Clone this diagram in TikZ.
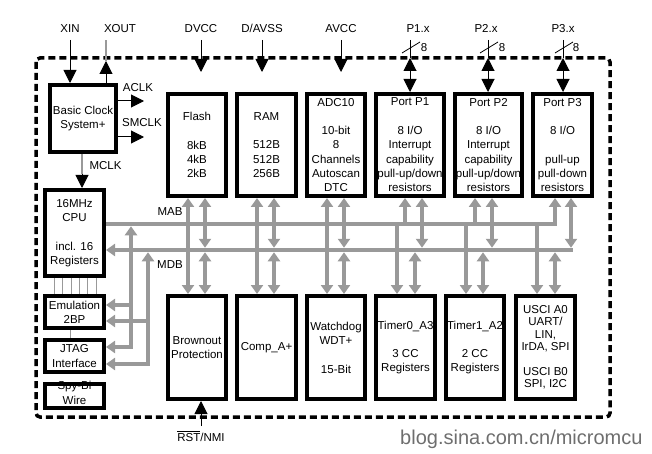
\documentclass[tikz,border=0pt]{standalone}
\usepackage{fontspec}
\setmainfont{Liberation Sans}
\usetikzlibrary{arrows.meta}
\definecolor{busgray}{RGB}{153,153,153}
\definecolor{wmgray}{RGB}{110,110,110}
\tikzset{
  bt/.tip={Triangle[width=13pt,length=13pt]},
  gt/.tip={Triangle[width=12pt,length=9pt]},
  txt/.style={font=\fontsize{11.5}{14.3}\selectfont, inner sep=0pt},
  blk/.style={draw, line width=4pt, inner sep=0pt, outer sep=2pt, align=center,
              font=\fontsize{11.5}{14.3}\selectfont},
  bus/.style={draw=busgray, line width=4.5pt},
  barrow/.style={line width=1pt, -bt},
  thinlink/.style={draw=busgray, line width=0.7pt},
}
\begin{document}
\begin{tikzpicture}[x=1pt,y=-1pt]
\useasboundingbox (0,0) rectangle (652,454);

% outer dashed boundary
\draw[line width=3.5pt, dash pattern=on 7pt off 4pt, rounded corners=4pt] (36,58) rectangle (610,417);

% left column
\node[blk, minimum width=66pt, minimum height=67pt] (clk) at (83,118.5) {Basic Clock\\System+};
\node[blk, minimum width=59pt, minimum height=86pt] (cpu) at (74.5,233) {16MHz\\CPU\\[14.3pt]incl. 16\\Registers};
\node[blk, minimum width=59pt, minimum height=32pt] (emu) at (74.5,312) {Emulation\\2BP};
\node[blk, minimum width=59pt, minimum height=32pt] (jtag) at (74.5,356) {JTAG\\Interface};
\node[txt, align=center] (spytxt) at (74.5,393) {Spy-Bi\\Wire};
\node[blk, minimum width=59pt, minimum height=24pt] (spy) at (74.5,396) {};

% top row
\node[blk, minimum width=58pt, minimum height=102pt] (flash) at (197,145) {Flash\\[14.3pt]8kB\\4kB\\2kB};
\node[blk, minimum width=59pt, minimum height=102pt] (ram) at (266.5,145) {RAM\\[14.3pt]512B\\512B\\256B};
\node[blk, minimum width=58pt, minimum height=102pt] (adc) at (336,145) {ADC10\\[14.3pt]10-bit\\8\\Channels\\Autoscan\\DTC};
\node[blk, minimum width=68pt, minimum height=102pt] (p1) at (410,145) {Port P1\\[14.3pt]8 I/O\\Interrupt\\capability\\pull-up/down\\resistors};
\node[blk, minimum width=67pt, minimum height=102pt] (p2) at (488.5,145) {Port P2\\[14.3pt]8 I/O\\Interrupt\\capability\\pull-up/down\\resistors};
\node[blk, minimum width=59pt, minimum height=102pt] (p3) at (562.5,145) {Port P3\\[14.3pt]8 I/O\\[14.3pt]pull-up\\pull-down\\resistors};

% bottom row
\node[blk, minimum width=58pt, minimum height=103pt] (brown) at (197,347.5) {Brownout\\Protection};
\node[blk, minimum width=59pt, minimum height=103pt] (comp) at (266.5,347.5) {Comp\_A+};
\node[blk, minimum width=58pt, minimum height=103pt] (wdt) at (336,347.5) {Watchdog\\WDT+\\[14.3pt]15-Bit};
\node[blk, minimum width=59pt, minimum height=103pt] (t0) at (405.5,347.5) {Timer0\_A3\\[14.3pt]3 CC\\Registers};
\node[blk, minimum width=58pt, minimum height=103pt] (t1) at (475,347.5) {Timer1\_A2\\[14.3pt]2 CC\\Registers};
\node[blk, minimum width=59pt, minimum height=103pt, font=\fontsize{11.5}{12.4}\selectfont] (usci) at (545.5,347.5) {USCI A0\\UART/\\LIN,\\IrDA, SPI\\[12.4pt]USCI B0\\SPI, I2C};

% external labels
\node[txt, anchor=base] (lxin) at (70,33) {XIN};
\node[txt, anchor=base] (lxout) at (120,33) {XOUT};
\node[txt, anchor=base] (ldvcc) at (201,33) {DVCC};
\node[txt, anchor=base] (ldavss) at (262,33) {D/AVSS};
\node[txt, anchor=base] (lavcc) at (341,33) {AVCC};
\node[txt, anchor=base] (lp1) at (418,33) {P1.x};
\node[txt, anchor=base] (lp2) at (486,33) {P2.x};
\node[txt, anchor=base] (lp3) at (563,33) {P3.x};
\node[txt, anchor=base] (l8a) at (424,52) {8};
\node[txt, anchor=base] (l8b) at (502,52) {8};
\node[txt, anchor=base] (l8c) at (576,52) {8};
\node[txt, anchor=base] (laclk) at (138,92) {ACLK};
\node[txt, anchor=base] (lsmclk) at (142,127) {SMCLK};
\node[txt, anchor=base] (lmclk) at (105.5,170) {MCLK};
\node[txt, anchor=base] (lmab) at (170,215) {MAB};
\node[txt, anchor=base] (lmdb) at (170,268) {MDB};
\node[txt, anchor=base] (lrst) at (201,441) {$\overline{\hbox{RST}}$/NMI};
\node[anchor=base west, inner sep=0pt, font=\fontsize{20}{20}\selectfont, text=wmgray] (wm) at (400,444) {blog.sina.com.cn/micromcu};

% clock signals
\coordinate (xinT) at (70,40);
\draw[barrow] (xinT) -- (clk.north -| xinT);
\coordinate (xoutT) at (106,40);
\coordinate (xoutA) at (106,61);
\draw[draw=busgray, line width=1.2pt] (xoutA) -- (xoutT);
\draw[barrow] (clk.north -| xoutA) -- (xoutA);
\coordinate (aclkE) at (144,101);
\draw[barrow] (clk.east |- aclkE) -- (aclkE);
\coordinate (smclkE) at (144,137);
\draw[barrow] (clk.east |- smclkE) -- (smclkE);
\coordinate (mclkA) at (82,174);
\draw[draw=busgray, line width=1.2pt] (clk.south -| mclkA) -- (mclkA);
\draw[barrow] (mclkA) -- (cpu.north -| mclkA);

% supplies
\coordinate (dvccT) at (201,40); \coordinate (dvccA) at (201,72);
\draw[barrow] (dvccT) -- (dvccA);
\coordinate (davssT) at (262,40); \coordinate (davssA) at (262,72);
\draw[barrow] (davssT) -- (davssA);
\coordinate (avccT) at (341,40); \coordinate (avccA) at (341,72);
\draw[barrow] (avccT) -- (avccA);

% port pins
\foreach \nm/\xx/\lab in {p1/410/lp1, p2/488/lp2, p3/563/lp3}{
  \coordinate (\nm T) at (\xx,40);
  \coordinate (\nm M) at (\xx,58);
  \draw[line width=1pt] (\nm T) -- (\nm M);
  \draw[line width=1pt, bt-bt] (\nm M) -- (\nm.north -| \nm M);
  \draw[line width=0.8pt] ([shift={(-8,13)}]\nm T) -- ([shift={(10,2)}]\nm T);
}

% reset
\coordinate (rstB) at (201,426);
\draw[barrow] (rstB) -- (brown.south -| rstB);

% buses
\draw[bus] (cpu.east |- 0,224) -- (557.25,224);
\draw[bus, gt-] (cpu.east |- 0,250) -- (573.25,250);

% memory / analog columns
\foreach \tp/\bt/\xa/\xb in {flash/brown/188/205, ram/comp/257/274, adc/wdt/327/344}{
  \draw[bus, gt-gt] (\tp.south -| \xa,0) -- (\bt.north -| \xa,0);
  \draw[bus, gt-gt] (\tp.south -| \xb,0) -- (\xb,247.75);
  \draw[bus, gt-gt] (\xb,252.25) -- (\bt.north -| \xb,0);
}
% port / peripheral columns
\foreach \tp/\bt/\xa/\xb/\xc/\xd in {p1/t0/405/422/397/415, p2/t1/475/492/466/483, p3/usci/555/571/537/555}{
  \draw[bus, -gt] (\xa,224) -- (\tp.south -| \xa,0);
  \draw[bus, gt-gt] (\tp.south -| \xb,0) -- (\xb,247.75);
  \draw[bus, -gt] (\xc,224) -- (\bt.north -| \xc,0);
  \draw[bus, gt-gt] (\xd,252.25) -- (\bt.north -| \xd,0);
}

% emulation / JTAG bus taps
\draw[bus, gt-gt] (jtag.east |- 0,347) -- (131,347) -- (131,226.25);
\draw[bus, -gt] (131,305) -- (emu.east |- 0,305);
\draw[bus, gt-gt] (jtag.east |- 0,364) -- (148,364) -- (148,252.25);
\draw[bus, -gt] (148,321) -- (emu.east |- 0,321);

% thin links
\foreach \xx in {54,62,71,79,87,96}{
  \draw[thinlink] (cpu.south -| \xx,0) -- (emu.north -| \xx,0);
}
\draw[thinlink] (emu.south -| 70,0) -- (jtag.north -| 70,0);
\end{tikzpicture}
\end{document}
